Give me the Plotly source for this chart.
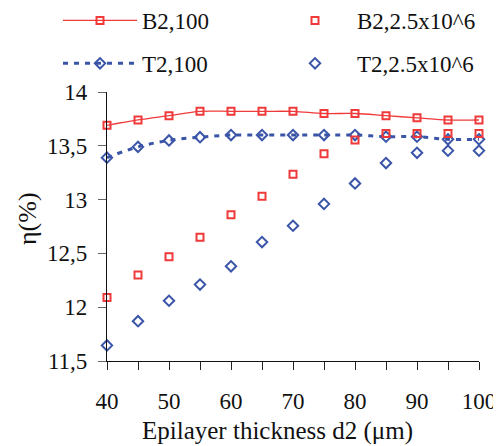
import plotly.graph_objects as go

thickness = [40, 45, 50, 55, 60, 65, 70, 75, 80, 85, 90, 95, 100]
b2_100 = [13.69, 13.74, 13.78, 13.82, 13.82, 13.82, 13.82, 13.80, 13.80, 13.78, 13.76, 13.74, 13.74]
t2_100 = [13.39, 13.49, 13.55, 13.58, 13.60, 13.60, 13.60, 13.60, 13.60, 13.585, 13.585, 13.56, 13.56]
b2_25e6 = [12.09, 12.30, 12.47, 12.65, 12.86, 13.03, 13.235, 13.425, 13.555, 13.615, 13.615, 13.615, 13.615]
t2_25e6 = [11.645, 11.87, 12.06, 12.21, 12.38, 12.605, 12.757, 12.96, 13.15, 13.34, 13.435, 13.455, 13.455]

RED = "#f03a3a"
BLUE = "#3a55a8"
FONT = "Liberation Serif"

# page is offset by the 8px body margin: figure coordinates = screen - 8
W, H = 493, 438
L, T, R, B = 99, 84, 22, 85
PW, PH = W - L - R, H - T - B

def px(xf):
    return (xf - L) / PW

def py(yf):
    return 1 - (yf - T) / PH

fig = go.Figure()
fig.add_trace(go.Scatter(x=thickness, y=b2_100, name="B2,100", mode="lines+markers",
                         line=dict(color=RED, width=1.3, shape="spline"),
                         marker=dict(symbol="square-open", size=7, color=RED, line=dict(width=2)),
                         legend="legend", legendgroup="a", cliponaxis=False))
fig.add_trace(go.Scatter(x=thickness, y=t2_100, name="T2,100", mode="lines+markers",
                         line=dict(color=BLUE, width=3, dash="5px,6px", shape="spline"),
                         marker=dict(symbol="diamond-open", size=8, color=BLUE, line=dict(width=2)),
                         legend="legend", legendgroup="b", cliponaxis=False))
fig.add_trace(go.Scatter(x=thickness, y=b2_25e6, name="B2,2.5x10^6", mode="markers",
                         marker=dict(symbol="square-open", size=7, color=RED, line=dict(width=2)),
                         legend="legend2", legendgroup="c", cliponaxis=False))
fig.add_trace(go.Scatter(x=thickness, y=t2_25e6, name="T2,2.5x10^6", mode="markers",
                         marker=dict(symbol="diamond-open", size=8, color=BLUE, line=dict(width=2)),
                         legend="legend2", legendgroup="d", cliponaxis=False))

legend_common = dict(font=dict(family=FONT, size=23, color="#111"), itemwidth=74,
                     tracegroupgap=10, bgcolor="rgba(0,0,0,0)", xref="paper", yref="paper",
                     xanchor="left", yanchor="top", orientation="v")

fig.update_layout(
    width=W, height=H,
    margin=dict(l=L, r=R, t=T, b=B, autoexpand=False),
    paper_bgcolor="white", plot_bgcolor="white",
    separators=",.",
    font=dict(family=FONT, size=20, color="#111"),
    showlegend=True,
    legend=dict(x=px(50), y=py(-9), **legend_common),
    legend2=dict(x=px(265), y=py(-9), **legend_common),
    xaxis=dict(range=[40, 100], dtick=10, tick0=40, ticks="outside", ticklen=8, tickcolor="#222",
               showline=True, linecolor="#111", linewidth=1.2, showgrid=False, zeroline=False,
               ticklabelstandoff=11,
               minor=dict(dtick=5, ticks="outside", ticklen=8, tickcolor="#222", showgrid=False),
               tickfont=dict(family=FONT, size=23)),
    yaxis=dict(range=[11.5, 14], dtick=0.5, ticks="outside", ticklen=8, tickcolor="#666",
               showline=True, linecolor="#111", linewidth=1.2, showgrid=False, zeroline=False,
               ticklabelstandoff=6,
               tickfont=dict(family=FONT, size=23)),
    annotations=[
        dict(text="Epilayer thickness d2 (μm)", xref="paper", yref="paper",
             x=px(277.5 - 8), y=py(431 - 8), xanchor="center", yanchor="middle",
             showarrow=False, font=dict(family=FONT, size=25, color="#111")),
        dict(text="η(%)", xref="paper", yref="paper", textangle=-90,
             x=px(27 - 8), y=py(219 - 8), xanchor="center", yanchor="middle",
             showarrow=False, font=dict(family=FONT, size=26, color="#111")),
    ],
)

fig.write_html("out.html")
